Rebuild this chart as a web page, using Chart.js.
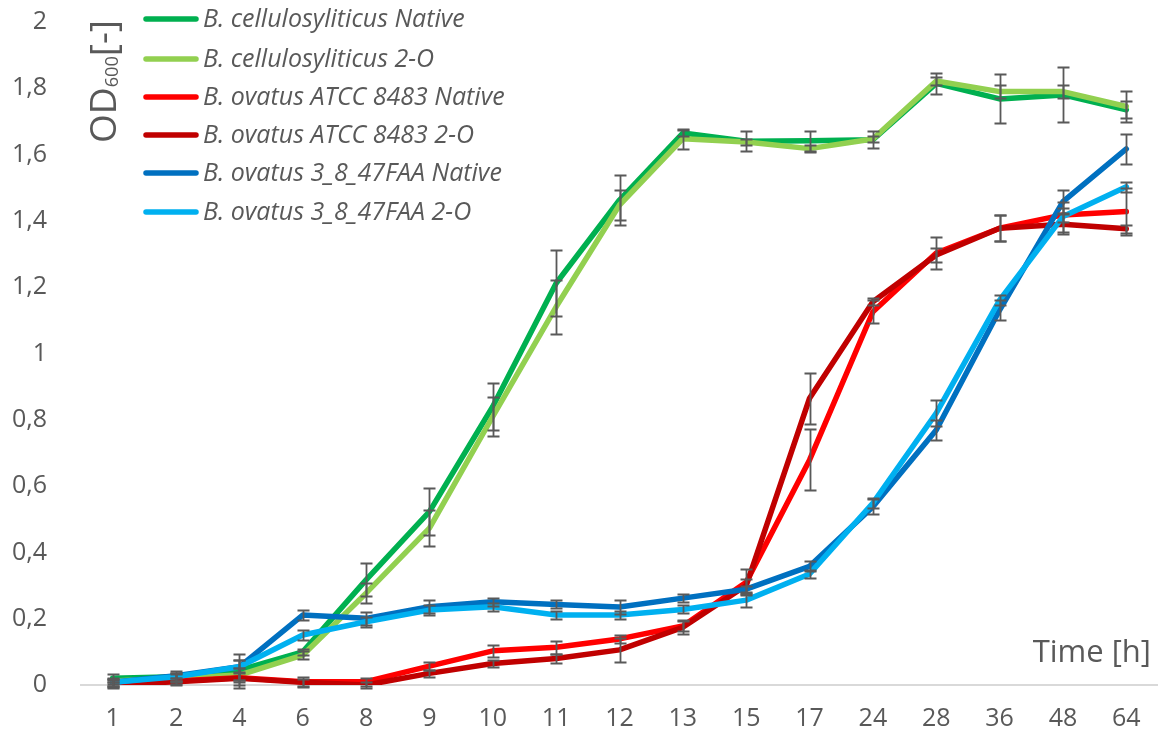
<!DOCTYPE html>
<html>
<head>
<meta charset="utf-8">
<script src="https://cdn.jsdelivr.net/npm/chart.js@4/dist/chart.umd.min.js"></script>
<style>
  html, body { margin: 0; padding: 0; background: #ffffff; }
  #wrap { width: 1158px; height: 740px; position: relative; }
</style>
</head>
<body>
<div id="wrap"><canvas id="growth" width="1158" height="740"></canvas></div>
<script>
// Sampling times (h)
const timePoints = ['1', '2', '4', '6', '8', '9', '10', '11', '12', '13', '15', '17', '24', '28', '36', '48', '64'];

// Y axis ticks
const yTicks = [0, 0.2, 0.4, 0.6, 0.8, 1, 1.2, 1.4, 1.6, 1.8, 2];

// Strain labels
const seriesNames = [
  'B. cellulosyliticus Native',
  'B. cellulosyliticus 2-O',
  'B. ovatus ATCC 8483 Native',
  'B. ovatus ATCC 8483 2-O',
  'B. ovatus 3_8_47FAA Native',
  'B. ovatus 3_8_47FAA 2-O'
];

// Mean OD600 values
const cellNative = [0.020, 0.025, 0.045, 0.100, 0.317, 0.523, 0.840, 1.212, 1.463, 1.665, 1.640, 1.642, 1.645, 1.815, 1.768, 1.780, 1.735];
const cell2O     = [0.012, 0.020, 0.030, 0.090, 0.277, 0.473, 0.810, 1.141, 1.448, 1.648, 1.638, 1.618, 1.647, 1.822, 1.790, 1.790, 1.745];
const atccNative = [0.005, 0.012, 0.022, 0.010, 0.010, 0.057, 0.103, 0.114, 0.139, 0.178, 0.310, 0.679, 1.126, 1.303, 1.378, 1.418, 1.428];
const atcc2O     = [0.000, 0.010, 0.020, 0.008, 0.000, 0.035, 0.065, 0.080, 0.106, 0.174, 0.300, 0.865, 1.156, 1.297, 1.378, 1.390, 1.376];
const faaNative  = [0.008, 0.028, 0.055, 0.211, 0.201, 0.236, 0.251, 0.243, 0.235, 0.262, 0.289, 0.358, 0.538, 0.769, 1.131, 1.458, 1.617];
const faa2O      = [0.008, 0.025, 0.055, 0.151, 0.191, 0.226, 0.236, 0.211, 0.211, 0.228, 0.256, 0.335, 0.549, 0.820, 1.161, 1.413, 1.503];

// Standard deviations
const cellNativeSd = [0.012, 0.012, 0.030, 0.010, 0.050, 0.071, 0.072, 0.100, 0.075, 0.010, 0.030, 0.030, 0.025, 0.032, 0.074, 0.083, 0.026];
const cell2OSd     = [0.010, 0.012, 0.020, 0.012, 0.030, 0.054, 0.060, 0.082, 0.045, 0.030, 0.010, 0.010, 0.010, 0.012, 0.020, 0.020, 0.048];
const atccNativeSd = [0.010, 0.010, 0.030, 0.015, 0.012, 0.012, 0.018, 0.020, 0.012, 0.015, 0.040, 0.092, 0.035, 0.048, 0.040, 0.020, 0.070];
const atcc2OSd     = [0.010, 0.010, 0.020, 0.010, 0.010, 0.010, 0.010, 0.015, 0.036, 0.021, 0.020, 0.077, 0.010, 0.020, 0.040, 0.030, 0.012];
const faaNativeSd  = [0.010, 0.015, 0.040, 0.015, 0.020, 0.020, 0.012, 0.012, 0.020, 0.012, 0.010, 0.015, 0.023, 0.030, 0.030, 0.035, 0.044];
const faa2OSd      = [0.010, 0.012, 0.020, 0.015, 0.015, 0.015, 0.012, 0.012, 0.012, 0.012, 0.020, 0.012, 0.015, 0.040, 0.015, 0.045, 0.015];

const seriesColors = ['#00B050', '#92D050', '#FF0000', '#C00000', '#0070C0', '#00B0F0'];
const seriesValues = [cellNative, cell2O, atccNative, atcc2O, faaNative, faa2O];
const seriesErrors = [cellNativeSd, cell2OSd, atccNativeSd, atcc2OSd, faaNativeSd, faa2OSd];

const FONT = "'Open Sans', 'Noto Sans', 'DejaVu Sans', sans-serif";
const TEXT_COLOR = '#595959';

const datasets = seriesNames.map((name, i) => ({
  label: name,
  data: seriesValues[i],
  errors: seriesErrors[i],
  borderColor: seriesColors[i],
  backgroundColor: seriesColors[i],
  borderWidth: 5.5,
  borderCapStyle: 'round',
  borderJoinStyle: 'round',
  pointRadius: 0,
  pointHoverRadius: 0,
  tension: 0,
  fill: false,
  order: seriesNames.length - i   // later strains drawn over earlier ones
}));

// Vertical error bars with caps
const errorBars = {
  id: 'errorBars',
  afterDatasetsDraw(chart) {
    const ctx = chart.ctx;
    const y = chart.scales.y;
    ctx.save();
    ctx.strokeStyle = '#595959';
    ctx.lineWidth = 1.8;
    chart.data.datasets.forEach((ds, di) => {
      const meta = chart.getDatasetMeta(di);
      meta.data.forEach((pt, i) => {
        const v = ds.data[i], e = ds.errors[i];
        if (e == null || e <= 0) return;
        const top = Math.round(y.getPixelForValue(v + e)) + 0.5;
        const bot = Math.round(y.getPixelForValue(v - e)) + 0.5;
        const x = Math.round(pt.x) + 0.5;
        ctx.beginPath();
        ctx.moveTo(x, top); ctx.lineTo(x, bot);
        ctx.moveTo(x - 6, top); ctx.lineTo(x + 6, top);
        ctx.moveTo(x - 6, bot); ctx.lineTo(x + 6, bot);
        ctx.stroke();
      });
    });
    ctx.restore();
  }
};

// Legend inside the plot, axis titles
const annotations = {
  id: 'annotations',
  afterDraw(chart) {
    const ctx = chart.ctx;
    ctx.save();

    // legend
    const rowY = [19, 59, 97, 135, 173, 212];
    chart.data.datasets.forEach((ds, i) => {
      ctx.strokeStyle = ds.borderColor;
      ctx.lineWidth = 5.5;
      ctx.lineCap = 'round';
      ctx.beginPath();
      ctx.moveTo(146, rowY[i]);
      ctx.lineTo(196, rowY[i]);
      ctx.stroke();
      ctx.fillStyle = TEXT_COLOR;
      ctx.font = 'italic 25px ' + FONT;
      ctx.textAlign = 'left';
      ctx.textBaseline = 'middle';
      ctx.fillText(ds.label, 203, rowY[i] + 1);
    });

    // x title
    ctx.fillStyle = TEXT_COLOR;
    ctx.font = '31px ' + FONT;
    ctx.textAlign = 'right';
    ctx.textBaseline = 'alphabetic';
    ctx.fillText('Time [h]', 1151, 662);

    // y title: OD with subscript 600, rotated
    ctx.translate(116, 143);
    ctx.rotate(-Math.PI / 2);
    const bigFont = '37px ' + FONT;
    const subFont = '18px ' + FONT;
    ctx.font = bigFont;
    const wOD = ctx.measureText('OD').width;
    const wBr = ctx.measureText('[-]').width;
    ctx.font = subFont;
    const wSub = ctx.measureText('600').width;
    const total = wOD + wSub + wBr;
    const sx = 123 / total;
    ctx.scale(sx, 1);
    ctx.textAlign = 'left';
    ctx.textBaseline = 'alphabetic';
    ctx.font = bigFont;
    ctx.fillText('OD', 0, 0);
    ctx.font = subFont;
    ctx.fillText('600', wOD, 2);
    ctx.font = bigFont;
    ctx.fillText('[-]', wOD + wSub, 0);

    ctx.restore();
  }
};

new Chart(document.getElementById('growth'), {
  type: 'line',
  data: { labels: timePoints, datasets },
  plugins: [errorBars, annotations],
  options: {
    responsive: false,
    animation: false,
    events: [],
    layout: { padding: { top: 22, right: 0, bottom: 0, left: 0 } },
    plugins: {
      legend: { display: false },
      tooltip: { enabled: false },
      title: { display: false }
    },
    scales: {
      x: {
        type: 'category',
        offset: true,
        grid: { display: false, drawTicks: false },
        border: { display: true, color: '#D9D9D9', width: 2 },
        ticks: {
          color: TEXT_COLOR,
          font: { family: FONT, size: 25 },
          padding: 19,
          maxRotation: 0,
          autoSkip: false
        },
        afterFit(scale) {
          scale.height = 55;
          scale.paddingLeft = 0; scale.paddingRight = 0;
        }
      },
      y: {
        min: 0,
        max: 2,
        afterBuildTicks(scale) { scale.ticks = yTicks.map(v => ({ value: v })); },
        grid: { display: false, drawTicks: false },
        border: { display: false },
        ticks: {
          color: TEXT_COLOR,
          font: { family: FONT, size: 25 },
          padding: 34,
          callback: v => String(Math.round(v * 10) / 10).replace('.', ',')
        },
        afterFit(scale) {
          scale.width = 81;
          scale.paddingTop = 0; scale.paddingBottom = 0;
        }
      }
    }
  }
});
</script>
</body>
</html>
